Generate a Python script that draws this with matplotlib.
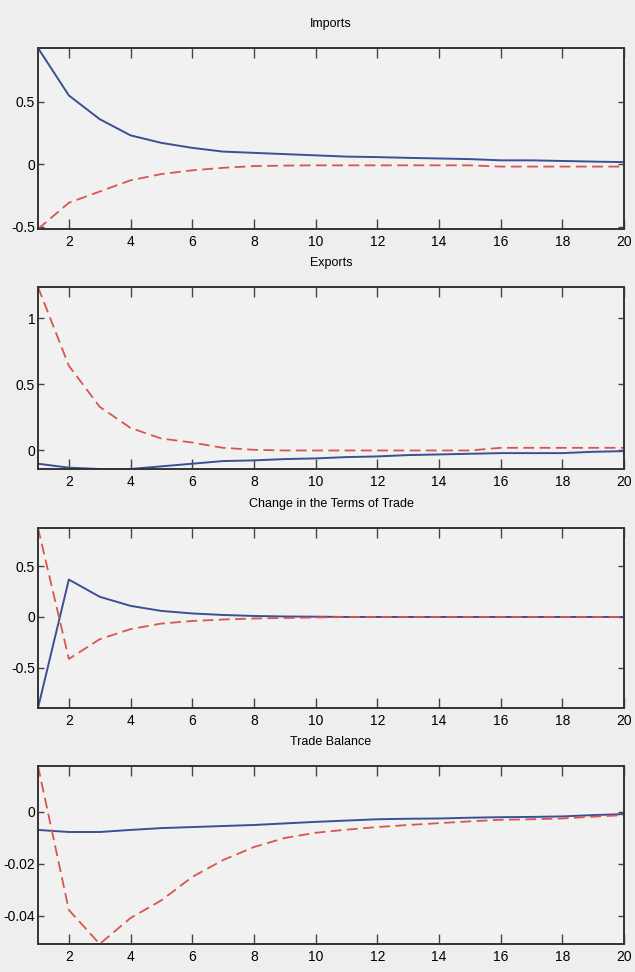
import numpy as np
import matplotlib
matplotlib.use('Agg')
import matplotlib.pyplot as plt

# impulse responses, periods 1..20
periods = np.arange(1, 21)

imports_blue = [0.93, 0.55, 0.36, 0.23, 0.17, 0.13, 0.10, 0.09, 0.08, 0.07,
                0.06, 0.056, 0.05, 0.045, 0.04, 0.03, 0.03, 0.025, 0.02, 0.016]
imports_red = [-0.52, -0.31, -0.22, -0.13, -0.08, -0.05, -0.03, -0.016, -0.012, -0.01,
               -0.01, -0.01, -0.01, -0.01, -0.01, -0.02, -0.02, -0.02, -0.02, -0.02]

exports_blue = [-0.10, -0.13, -0.14, -0.14, -0.12, -0.10, -0.08, -0.075, -0.065, -0.06,
                -0.05, -0.045, -0.035, -0.03, -0.025, -0.02, -0.02, -0.02, -0.01, -0.005]
exports_red = [1.235, 0.64, 0.33, 0.17, 0.09, 0.06, 0.02, 0.005, 0.0, 0.0,
               0.0, 0.0, 0.0, 0.0, 0.0, 0.02, 0.02, 0.02, 0.02, 0.02]

tot_blue = [-0.90, 0.37, 0.20, 0.11, 0.06, 0.035, 0.02, 0.01, 0.005, 0.003,
            0.0, 0.0, 0.0, 0.0, 0.0, 0.0, 0.0, 0.0, 0.0, 0.0]
tot_red = [0.88, -0.415, -0.22, -0.12, -0.065, -0.04, -0.025, -0.015, -0.01, -0.005,
           0.0, 0.0, 0.0, 0.0, 0.0, 0.0, 0.0, 0.0, 0.0, 0.0]

tb_blue = [-0.0069, -0.0077, -0.0077, -0.0069, -0.0062, -0.0058, -0.0054, -0.005, -0.0044, -0.0038,
           -0.0033, -0.0028, -0.0026, -0.0025, -0.0022, -0.002, -0.0019, -0.0017, -0.0012, -0.0008]
tb_red = [0.0177, -0.0377, -0.0508, -0.0408, -0.034, -0.025, -0.0185, -0.0135, -0.010, -0.008,
          -0.0068, -0.0058, -0.005, -0.0043, -0.0036, -0.003, -0.0028, -0.0025, -0.0018, -0.0012]

titles = ['Imports', 'Exports', 'Change in the Terms of Trade', 'Trade Balance']
blue_series = [imports_blue, exports_blue, tot_blue, tb_blue]
red_series = [imports_red, exports_red, tot_red, tb_red]
yticks = [[-0.5, 0, 0.5], [0, 0.5, 1], [-0.5, 0, 0.5], [-0.04, -0.02, 0]]
yticklabels = [['-0.5', '0', '0.5'], ['0', '0.5', '1'], ['-0.5', '0', '0.5'], ['-0.04', '-0.02', '0']]

plt.rcParams['font.family'] = ['Liberation Sans Narrow', 'Liberation Sans', 'DejaVu Sans']

W, H = 635, 972
fig = plt.figure(figsize=(W / 100, H / 100), dpi=100)
fig.patch.set_facecolor('#eeeeee')

# panel boxes in pixels: top, bottom
boxes = [(48, 229), (287, 469), (528, 708), (766, 944)]
left, right = 38, 624

for i, (top, bottom) in enumerate(boxes):
    ax = fig.add_axes([left / W, 1 - bottom / H, (right - left) / W, (bottom - top) / H])
    ax.set_facecolor('#f1f1f1')
    ax.plot(periods, blue_series[i], color='#3b4f95', lw=1.4)
    ax.plot(periods, red_series[i], color='#d9554f', lw=1.3, ls=(0, (6, 3)))
    lo = min(min(blue_series[i]), min(red_series[i]))
    hi = max(max(blue_series[i]), max(red_series[i]))
    ax.set_ylim(lo, hi)
    ax.set_xlim(1, 20)
    ax.set_xticks(range(2, 21, 2))
    ax.set_yticks(yticks[i])
    ax.set_yticklabels(yticklabels[i])
    ax.tick_params(direction='in', top=True, right=True, length=7, width=1,
                   color='#444444', labelsize=10, pad=4)
    ax.tick_params(axis='y', length=4, pad=2)
    for s in ax.spines.values():
        s.set_linewidth(1.4)
        s.set_color('#333333')
    ax.set_title(titles[i], fontsize=9, pad=15)

fig.savefig('out.png', dpi=100, facecolor=fig.get_facecolor())
